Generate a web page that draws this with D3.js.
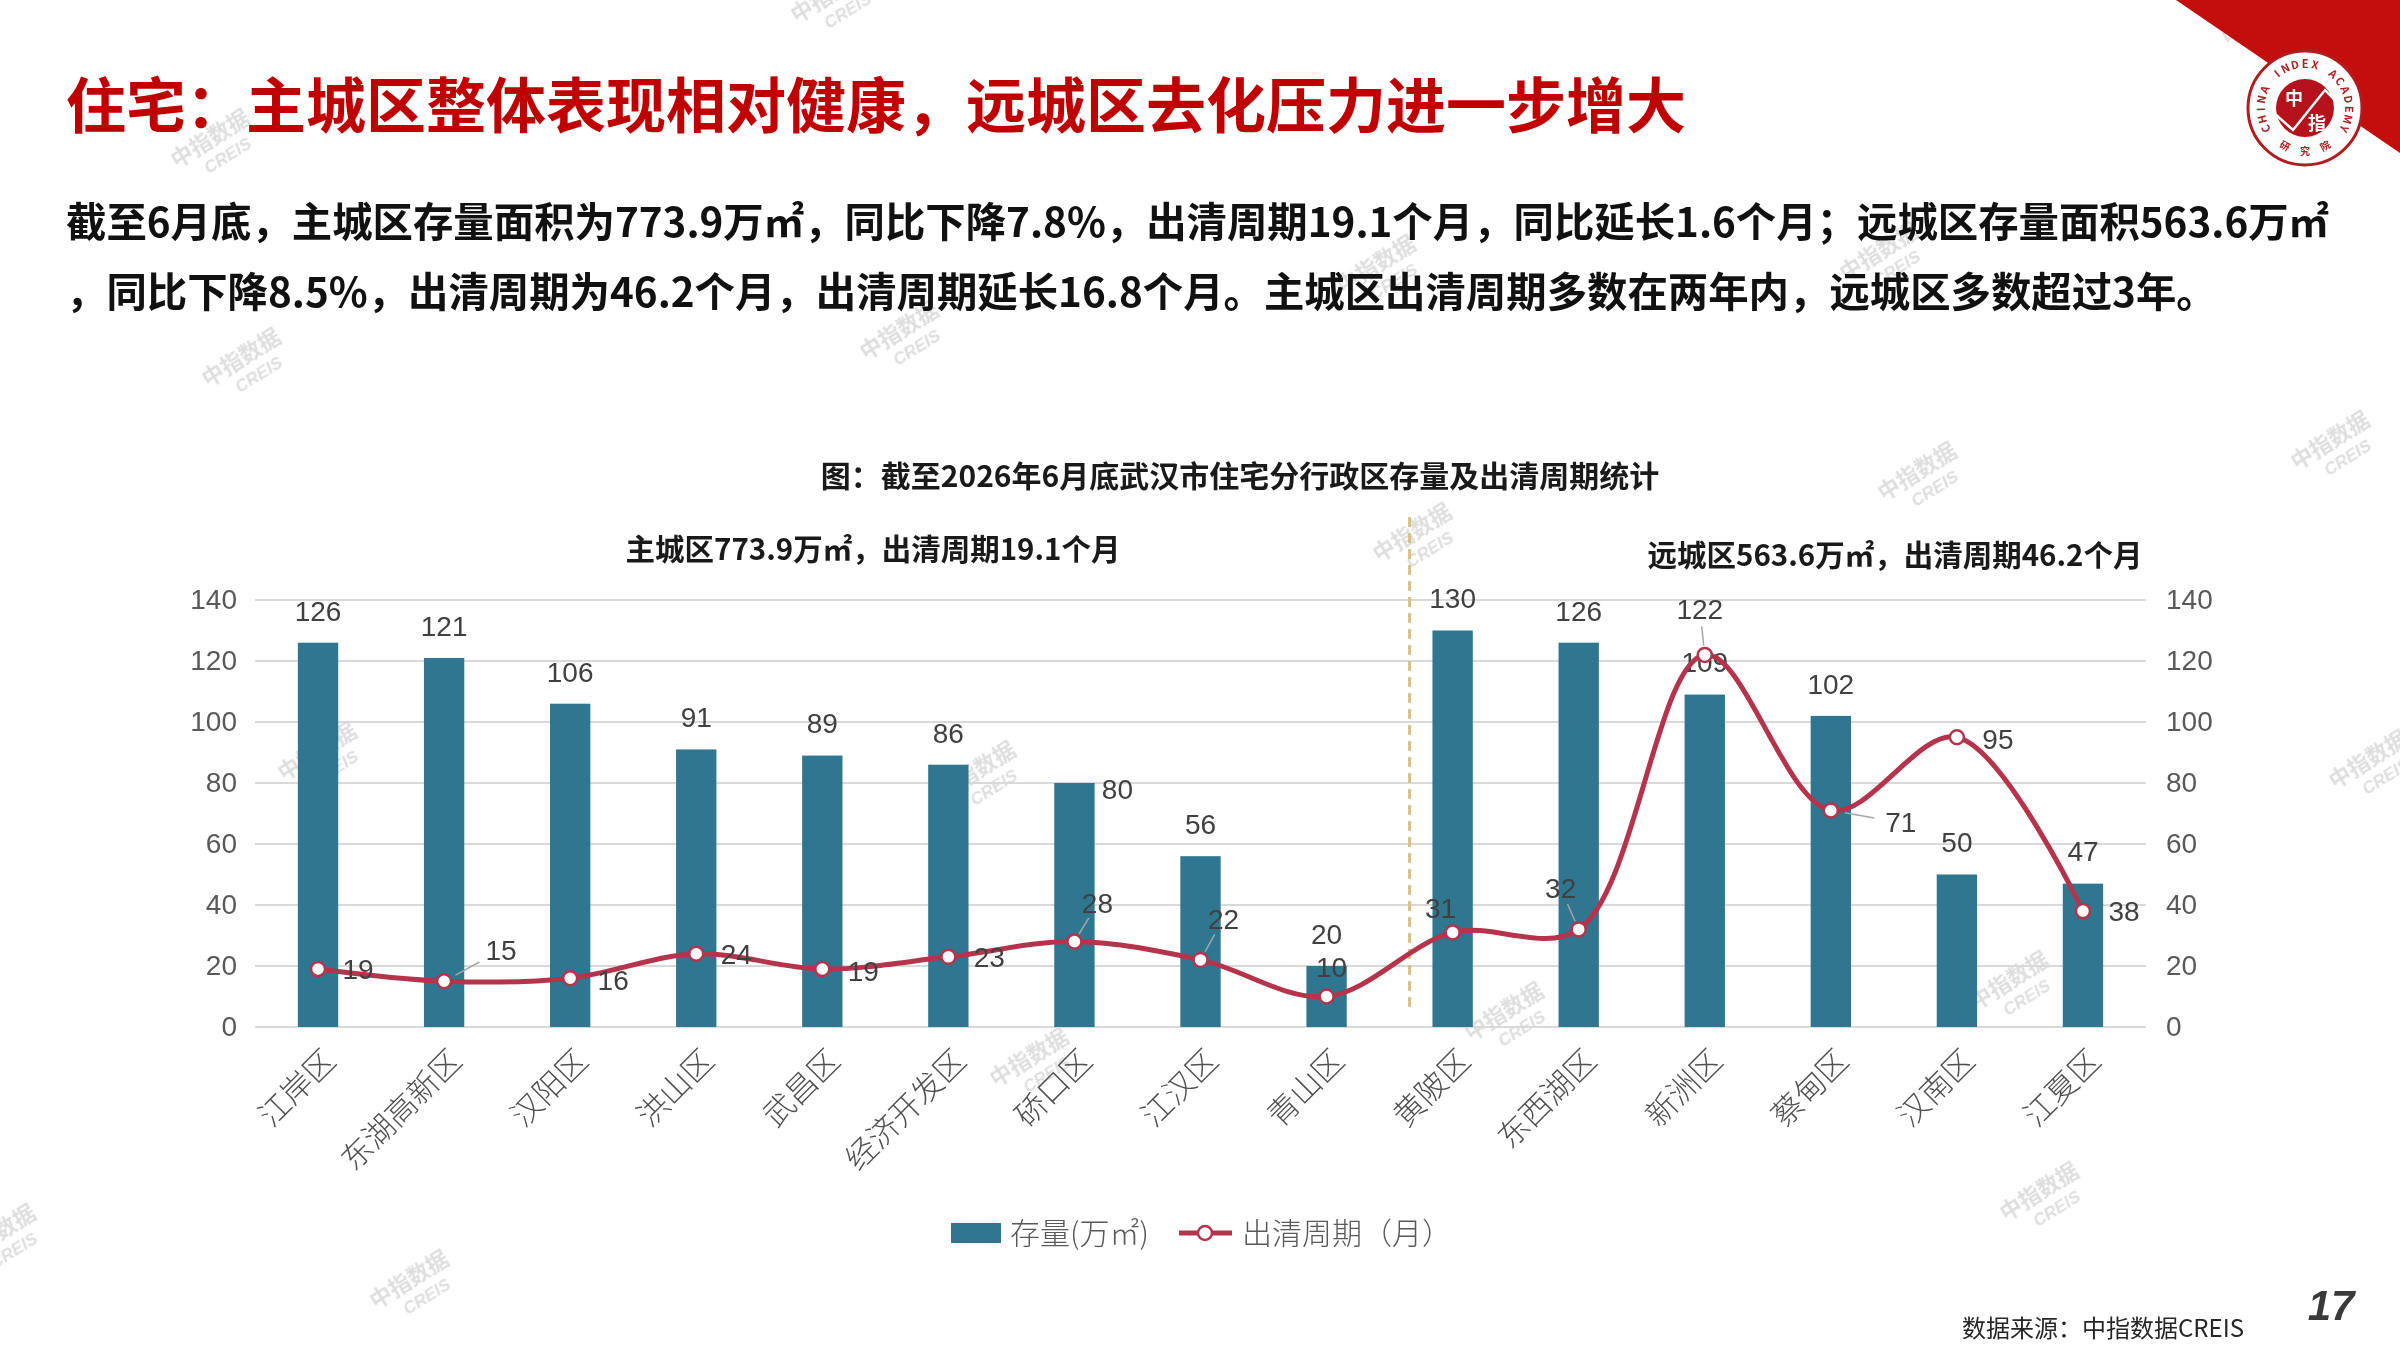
<!DOCTYPE html>
<html>
<head>
<meta charset="utf-8">
<script src="https://cdn.jsdelivr.net/npm/d3@7/dist/d3.min.js"></script>
<style>
    html, body { margin: 0; padding: 0; background: #ffffff; }
    svg { display: block; }
    text { font-family: "Noto Sans CJK SC", "Noto Sans", sans-serif; }
    .num { font-family: "Liberation Sans", Arial, sans-serif; }
</style>
</head>
<body>
<div class="viewport"></div>
<script>

// districts, left 9 are 主城区, right 6 are 远城区
var districts = ["江岸区", "东湖高新区", "汉阳区", "洪山区", "武昌区", "经济开发区", "硚口区", "江汉区", "青山区",
    "黄陂区", "东西湖区", "新洲区", "蔡甸区", "汉南区", "江夏区"];

// 存量(万㎡)
var stock = [126, 121, 106, 91, 89, 86, 80, 56, 20, 130, 126, 109, 102, 50, 47];

// 出清周期(月)
var period = [19, 15, 16, 24, 19, 23, 28, 22, 10, 31, 32, 122, 71, 95, 38];

var yTicks = [0, 20, 40, 60, 80, 100, 120, 140];

var pageTitle = "住宅：主城区整体表现相对健康，远城区去化压力进一步增大";
var summary = [
    "截至6月底，主城区存量面积为773.9万㎡，同比下降7.8%，出清周期19.1个月，同比延长1.6个月；远城区存量面积563.6万㎡",
    "，同比下降8.5%，出清周期为46.2个月，出清周期延长16.8个月。主城区出清周期多数在两年内，远城区多数超过3年。"
];
var chartTitle = "图：截至2026年6月底武汉市住宅分行政区存量及出清周期统计";
var mainLabel = "主城区773.9万㎡，出清周期19.1个月";
var farLabel = "远城区563.6万㎡，出清周期46.2个月";
var legendNames = ["存量(万㎡)", "出清周期（月）"];

// label nudges (pixels) – layout only
var barLabelShift = [[0, -32], [0, -32], [0, -32], [0, -32], [0, -32], [0, -32], [43, 6], [0, -32], [0, -32],
    [0, -32], [0, -32], [0, -32], [0, -32], [0, -32], [0, -32]];
var lineLabelShift = [[40, 0], [57, -31], [43, 2], [40, 0], [41, 2], [41, 0], [23, -38], [23, -41], [5, -29],
    [-12, -24], [-18, -41], [-5, -46], [70, 12], [41, 2], [41, 0]];
var leaderIdx = [1, 6, 7, 10, 11, 12];

function letsGo() {

    var W = 2400, H = 1350;
    var barColor = "#2f7690",
        lineColor = "#b5344c",
        gridColor = "#d9d9d9",
        tickColor = "#595959";

    var svg = d3.select(".viewport").append("svg")
        .attr("width", W)
        .attr("height", H);

    drawWatermarks(svg);
    drawCorner(svg);

    // page title + summary
    svg.append("text")
        .attr("x", 66).attr("y", 128)
        .attr("font-size", 60).attr("font-weight", 700)
        .attr("fill", "#c00000")
        .text(pageTitle);

    svg.selectAll("text.summary").data(summary).enter().append("text")
        .attr("class", "summary")
        .attr("x", 66)
        .attr("y", function(d, i) { return 237 + i * 70; })
        .attr("font-size", 40.4).attr("font-weight", 700)
        .attr("fill", "#111111")
        .text(function(d) { return d; });

    // chart titles
    svg.append("text")
        .attr("x", 1240).attr("y", 487)
        .attr("text-anchor", "middle")
        .attr("font-size", 30).attr("font-weight", 700)
        .attr("fill", "#1a1a1a")
        .text(chartTitle);

    svg.append("text")
        .attr("x", 873).attr("y", 560)
        .attr("text-anchor", "middle")
        .attr("font-size", 29.5).attr("font-weight", 700)
        .attr("fill", "#1a1a1a")
        .text(mainLabel);

    svg.append("text")
        .attr("x", 1895).attr("y", 566)
        .attr("text-anchor", "middle")
        .attr("font-size", 29.5).attr("font-weight", 700)
        .attr("fill", "#1a1a1a")
        .text(farLabel);

    // scales
    var x = d3.scaleBand()
        .domain(districts)
        .range([255, 2146])
        .paddingInner(0.68)
        .paddingOuter(0.34);

    var y = d3.scaleLinear().domain([0, 140]).range([1027, 600]);
    var yR = d3.scaleLinear().domain([0, 140]).range([1027, 600]);

    var cx = function(d) { return x(d) + x.bandwidth() / 2; };

    // grid
    svg.append("g").selectAll("line").data(yTicks).enter().append("line")
        .attr("x1", 255).attr("x2", 2146)
        .attr("y1", function(d) { return y(d); })
        .attr("y2", function(d) { return y(d); })
        .attr("stroke", gridColor)
        .attr("stroke-width", 2);

    // left axis
    var axL = svg.append("g")
        .attr("transform", "translate(255,0)")
        .call(d3.axisLeft(y).tickValues(yTicks).tickSize(0).tickPadding(18));
    axL.select(".domain").remove();
    axL.selectAll("text")
        .attr("class", "num")
        .attr("font-size", 28)
        .attr("fill", tickColor);

    // right axis
    var axR = svg.append("g")
        .attr("transform", "translate(2146,0)")
        .call(d3.axisRight(yR).tickValues(yTicks).tickSize(0).tickPadding(20));
    axR.select(".domain").remove();
    axR.selectAll("text")
        .attr("class", "num")
        .attr("font-size", 28)
        .attr("fill", tickColor);

    // bottom axis labels
    var axB = svg.append("g")
        .attr("transform", "translate(0,1027)")
        .call(d3.axisBottom(x).tickSize(0).tickPadding(0));
    axB.select(".domain").remove();
    axB.selectAll("text")
        .attr("font-size", 31)
        .attr("font-weight", 300)
        .attr("fill", "#505050")
        .attr("text-anchor", "end")
        .attr("dy", "0.35em")
        .attr("transform", "translate(12,28) rotate(-45)");

    // bars
    svg.append("g").selectAll("rect").data(stock).enter().append("rect")
        .attr("x", function(d, i) { return x(districts[i]); })
        .attr("y", function(d) { return y(d); })
        .attr("width", x.bandwidth())
        .attr("height", function(d) { return y(0) - y(d); })
        .attr("fill", barColor);

    // divider between 主城区 and 远城区
    var xDiv = (cx("青山区") + cx("黄陂区")) / 2 + 20;
    svg.append("line")
        .attr("x1", xDiv).attr("x2", xDiv)
        .attr("y1", 517).attr("y2", 1013)
        .attr("stroke", "#d9c27e")
        .attr("stroke-width", 3)
        .attr("stroke-dasharray", "10,6");

    // bar labels
    svg.append("g").selectAll("text").data(stock).enter().append("text")
        .attr("class", "num")
        .attr("x", function(d, i) { return cx(districts[i]) + barLabelShift[i][0]; })
        .attr("y", function(d, i) { return y(d) + barLabelShift[i][1]; })
        .attr("dy", "0.35em")
        .attr("text-anchor", "middle")
        .attr("font-size", 28)
        .attr("fill", "#404040")
        .text(function(d) { return d; });

    // period line
    var line = d3.line()
        .x(function(d, i) { return cx(districts[i]); })
        .y(function(d) { return yR(d); })
        .curve(d3.curveCatmullRom.alpha(0.5));

    svg.append("path")
        .datum(period)
        .attr("d", line)
        .attr("fill", "none")
        .attr("stroke", lineColor)
        .attr("stroke-width", 5);

    // leader lines
    svg.append("g").selectAll("line").data(leaderIdx).enter().append("line")
        .attr("x1", function(i) { return cx(districts[i]) + lineLabelShift[i][0] * 0.2; })
        .attr("y1", function(i) { return yR(period[i]) + lineLabelShift[i][1] * 0.2; })
        .attr("x2", function(i) { return cx(districts[i]) + lineLabelShift[i][0] * 0.62; })
        .attr("y2", function(i) { return yR(period[i]) + lineLabelShift[i][1] * 0.62; })
        .attr("stroke", "#a6a6a6")
        .attr("stroke-width", 1.5);

    svg.append("g").selectAll("circle").data(period).enter().append("circle")
        .attr("cx", function(d, i) { return cx(districts[i]); })
        .attr("cy", function(d) { return yR(d); })
        .attr("r", 7)
        .attr("fill", "#ffffff")
        .attr("stroke", lineColor)
        .attr("stroke-width", 2.5);

    svg.append("g").selectAll("text").data(period).enter().append("text")
        .attr("class", "num")
        .attr("x", function(d, i) { return cx(districts[i]) + lineLabelShift[i][0]; })
        .attr("y", function(d, i) { return yR(d) + lineLabelShift[i][1]; })
        .attr("dy", "0.35em")
        .attr("text-anchor", "middle")
        .attr("font-size", 28)
        .attr("fill", "#404040")
        .text(function(d) { return d; });

    // legend
    var lg = svg.append("g");
    lg.append("rect")
        .attr("x", 951).attr("y", 1223)
        .attr("width", 50).attr("height", 20)
        .attr("fill", barColor);
    lg.append("text")
        .attr("x", 1010).attr("y", 1244)
        .attr("font-size", 30).attr("font-weight", 300)
        .attr("fill", tickColor)
        .text(legendNames[0]);
    lg.append("line")
        .attr("x1", 1179).attr("x2", 1232)
        .attr("y1", 1233).attr("y2", 1233)
        .attr("stroke", lineColor).attr("stroke-width", 5);
    lg.append("circle")
        .attr("cx", 1205).attr("cy", 1233).attr("r", 7)
        .attr("fill", "#ffffff")
        .attr("stroke", lineColor).attr("stroke-width", 2.5);
    lg.append("text")
        .attr("x", 1242).attr("y", 1244)
        .attr("font-size", 30).attr("font-weight", 300)
        .attr("fill", tickColor)
        .text(legendNames[1]);

    // footer
    svg.append("text")
        .attr("x", 1962).attr("y", 1337)
        .attr("font-size", 24)
        .attr("fill", "#262626")
        .text("数据来源：中指数据CREIS");

    svg.append("text")
        .attr("class", "num")
        .attr("x", 2331).attr("y", 1320)
        .attr("text-anchor", "middle")
        .attr("font-size", 42).attr("font-weight", 700)
        .attr("font-style", "italic")
        .attr("fill", "#3a3a3a")
        .text("17");

    function drawCorner(s) {
        var g = s.append("g");
        g.append("polygon")
            .attr("points", "2176,0 2400,0 2400,153")
            .attr("fill", "#c40d0d");

        var c = g.append("g").attr("transform", "translate(2305,108)");
        c.append("circle").attr("r", 57)
            .attr("fill", "#ffffff")
            .attr("stroke", "#b31b1f").attr("stroke-width", 3);
        c.append("circle").attr("r", 29).attr("fill", "#b5121b");

        // ring lettering, one glyph at a time
        var ring = "CHINA INDEX ACADEMY".split("");
        var a0 = -118, a1 = 118;
        ring.forEach(function(ch, i) {
            var a = a0 + (a1 - a0) * i / (ring.length - 1);
            var r = a * Math.PI / 180;
            c.append("text")
                .attr("transform", "translate(" + (44 * Math.sin(r)) + "," + (-44 * Math.cos(r)) + ") rotate(" + a + ")")
                .attr("text-anchor", "middle")
                .attr("dy", "0.35em")
                .attr("font-family", "Liberation Serif, serif")
                .attr("font-size", 11).attr("font-weight", 700)
                .attr("fill", "#b31b1f")
                .text(ch);
        });
        ["研", "究", "院"].forEach(function(ch, i) {
            var a = 180 - (i - 1) * 28;
            var r = a * Math.PI / 180;
            c.append("text")
                .attr("transform", "translate(" + (43 * Math.sin(r)) + "," + (-43 * Math.cos(r)) + ") rotate(" + (a - 180) + ")")
                .attr("text-anchor", "middle")
                .attr("dy", "0.35em")
                .attr("font-size", 10).attr("font-weight", 700)
                .attr("fill", "#b31b1f")
                .text(ch);
        });
        c.append("path")
            .attr("d", "M -30,6 L -12,22 L 20,-18 L 34,-4")
            .attr("fill", "none")
            .attr("stroke", "#ffffff").attr("stroke-width", 2.5);
        c.append("text")
            .attr("x", -11).attr("y", -3).attr("text-anchor", "middle")
            .attr("font-size", 18).attr("font-weight", 700)
            .attr("fill", "#ffffff").text("中");
        c.append("text")
            .attr("x", 12).attr("y", 22).attr("text-anchor", "middle")
            .attr("font-size", 18).attr("font-weight", 700)
            .attr("fill", "#ffffff").text("指");
    }

    function drawWatermarks(s) {
        var marks = [[214, 145], [245, 364], [903, 337], [1416, 539], [1921, 478], [2334, 447],
            [321, 758], [980, 777], [1033, 1064], [1508, 1018], [2013, 987], [2043, 1198],
            [413, 1286], [2372, 766], [0, 1240], [834, 0], [1380, 271], [1883, 258], [2265, 23]];
        var g = s.append("g").attr("fill", "#d6d6d6").attr("opacity", 0.8);
        marks.forEach(function(m) {
            var w = g.append("g").attr("transform", "translate(" + m[0] + "," + m[1] + ") rotate(-32)");
            w.append("text").attr("text-anchor", "middle").attr("font-size", 22)
                .attr("font-weight", 700).text("中指数据");
            w.append("text").attr("text-anchor", "middle").attr("y", 22).attr("x", 6)
                .attr("class", "num").attr("font-size", 17).attr("font-weight", 700)
                .attr("font-style", "italic").text("CREIS");
        });
    }
}

letsGo();
</script>
</body>
</html>
